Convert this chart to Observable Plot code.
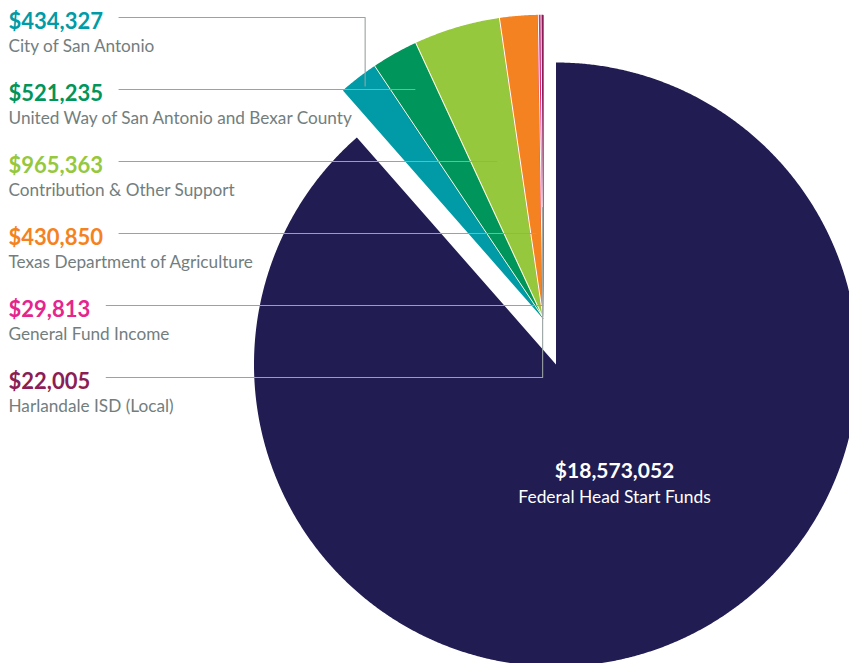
<!DOCTYPE html>
<html><head><meta charset="utf-8">
<script src="https://cdn.jsdelivr.net/npm/d3@7"></script>
<script src="https://cdn.jsdelivr.net/npm/@observablehq/plot@0.6"></script>
<style>
html,body{margin:0;padding:0;background:#fff;overflow:hidden;}
#chart svg{display:block;overflow:hidden;}
</style></head><body><div id="chart"></div>
<script>
// ---- data ----
const categories = [
  "Federal Head Start Funds",
  "City of San Antonio",
  "United Way of San Antonio and Bexar County",
  "Contribution & Other Support",
  "Texas Department of Agriculture",
  "General Fund Income",
  "Harlandale ISD (Local)"
];
const values = [18573052, 434327, 521235, 965363, 430850, 29813, 22005];
const colors = ["#211c52", "#009ba6", "#00955a", "#95c83d", "#f58220", "#e5258d", "#8c1d56"];

// ---- layout ----
const W = 849, H = 663;
const R = 302;
const bigC = [555.5, 364];
const smallC = [542.5, 317];
const leaderR = [null, 292, null, null, null, null, 110];
const fmt = v => "$" + d3.format(",")(v);

const arcs = d3.pie().sort(null).value(d => d)(values);
const pt = (c, r, a) => ({x: c[0] + r * Math.sin(a), y: c[1] - r * Math.cos(a)});

const slicePts = [];
const separators = [];
categories.forEach((name, i) => {
  const a0 = arcs[i].startAngle, a1 = arcs[i].endAngle;
  const c = i === 0 ? bigC : smallC;
  const n = Math.max(2, Math.ceil((a1 - a0) / 0.005));
  const grp = i === 0 ? "big" : "small";
  slicePts.push({name, grp, color: colors[i], ...pt(c, 0, 0)});
  for (let k = 0; k <= n; k++) slicePts.push({name, grp, color: colors[i], ...pt(c, R, a0 + (a1 - a0) * k / n)});
  slicePts.push({name, grp, color: colors[i], ...pt(c, 0, 0)});
  if (i > 1) separators.push({name, ...pt(smallC, 0, a0)}, {name, ...pt(smallC, R + 3, a0)});
});

// measure value text width
const ctx = document.createElement("canvas").getContext("2d");
ctx.font = "bold 22px Lato";

const rows = [], leaders = [];
categories.forEach((name, i) => {
  if (i === 0) return;
  const vy = 28 + 72 * (i - 1);
  const ly = vy - 11;
  const vt = fmt(values[i]);
  rows.push({vx: 8, vy, ny: vy + 23, vt, name, color: colors[i]});
  const mid = (arcs[i].startAngle + arcs[i].endAngle) / 2;
  const sx = 8 + ctx.measureText(vt).width + 16;
  let E;
  if (leaderR[i] == null) {
    const r = (smallC[1] - ly) / Math.cos(mid);
    E = pt(smallC, r, mid);
    leaders.push({name, x: sx, y: ly}, {name, x: E.x, y: ly});
  } else {
    E = pt(smallC, leaderR[i], mid);
    leaders.push({name, x: sx, y: ly}, {name, x: E.x, y: ly}, {name, x: E.x, y: E.y});
  }
});

const bigMid = (arcs[0].startAngle + arcs[0].endAngle) / 2;
const bc = pt(bigC, 135, bigMid);
const bigLabel = [{x: bc.x, y: bc.y, vt: fmt(values[0]), name: categories[0]}];

const chart = Plot.plot({
  width: W, height: H,
  margin: 0,
  x: {domain: [0, W], range: [0, W], axis: null},
  y: {domain: [0, H], range: [0, H], axis: null},
  color: {type: "identity"},
  style: {fontFamily: "Lato, sans-serif", background: "#fff"},
  marks: [
    Plot.line(slicePts.filter(d => d.grp === "big"), {x: "x", y: "y", z: "name", fill: "color", stroke: "none", curve: "linear"}),
    Plot.line(slicePts.filter(d => d.grp === "small"), {x: "x", y: "y", z: "name", fill: "color", stroke: "color", strokeWidth: 1.4, strokeLinejoin: "round", curve: "linear"}),
    Plot.line(separators, {x: "x", y: "y", z: "name", stroke: "white", strokeWidth: 1, curve: "linear"}),
    Plot.line(leaders, {x: "x", y: "y", z: "name", stroke: "#9aa2a2", strokeWidth: 1.1, curve: "linear"}),
    Plot.text(rows, {x: "vx", y: "vy", text: "vt", fill: "color", fontSize: 22, fontWeight: 700, textAnchor: "start", lineAnchor: "bottom"}),
    Plot.text(rows, {x: "vx", y: "ny", text: "name", fill: "#727e7e", fontSize: 17.2, textAnchor: "start", lineAnchor: "bottom"}),
    Plot.text(bigLabel, {x: "x", y: "y", text: "vt", fill: "white", fontSize: 21, fontWeight: 700, dx: 11, dy: -13, lineAnchor: "bottom"}),
    Plot.text(bigLabel, {x: "x", y: "y", text: "name", fill: "white", fontSize: 17.4, dx: 11, dy: 12, lineAnchor: "bottom"})
  ]
});
document.getElementById("chart").appendChild(chart);
</script>
</body></html>
